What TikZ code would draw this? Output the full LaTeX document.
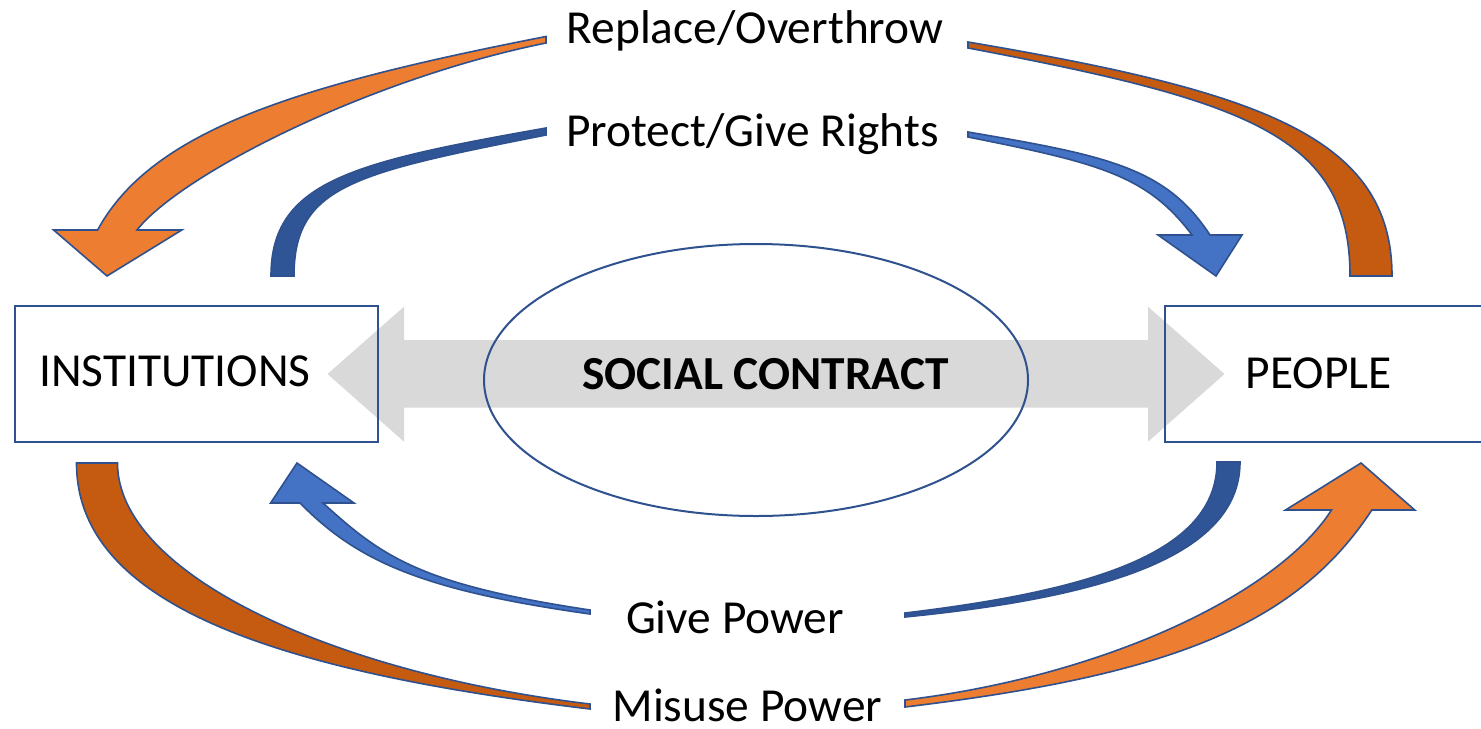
\documentclass[tikz,border=0pt]{standalone}
\usepackage{fontspec}
\setmainfont{Carlito}
\usetikzlibrary{shapes.geometric}
\definecolor{orangeL}{HTML}{ED7D31}
\definecolor{orangeD}{HTML}{C55A11}
\definecolor{blueL}{HTML}{4472C4}
\definecolor{blueD}{HTML}{2F5597}
\definecolor{edgeblue}{HTML}{2F528F}
\definecolor{greyarrow}{HTML}{D9D9D9}
\tikzset{
    band/.style={draw=edgeblue, line width=0.8pt, line join=miter},
    lbl/.style={font=\fontsize{23.7}{28}\selectfont, inner sep=0pt, anchor=base},
    framebox/.style={draw=edgeblue, line width=1.2pt, rectangle, inner sep=0pt},
}

\begin{document}
\begin{tikzpicture}[x=0.5pt, y=-0.5pt]
        \useasboundingbox (0,0) rectangle (1481,728);
        \clip (0,0) rectangle (1481,728);

        \fill[greyarrow] (327.5,374) -- (404,306.7) -- (404,340) -- (1148,340)
            -- (1148,306.7) -- (1224.5,374) -- (1148,441.7) -- (1148,407.7)
            -- (404,407.7) -- (404,441.7) -- cycle;

        \node[framebox, minimum width=181.6pt, minimum height=68pt] (instbox) at (196.6,373.7) {};
        \node[framebox, minimum width=170pt, minimum height=68pt] (pplbox) at (1335,373.7) {};
        \node[ellipse, draw=edgeblue, line width=1pt, inner sep=0pt,
              minimum width=272pt, minimum height=136pt] (contract) at (756,380) {};

        \draw[band, fill=orangeL] (546,36.5) .. controls (298,85) and (152,130) .. (97.6,230)
            -- (53.6,230) -- (107,276) -- (181.8,230) -- (137,230)
            .. controls (180.4,174.7) and (368,79) .. (546,43) -- cycle;
        \draw[band, fill=blueD] (546,128) .. controls (354,162) and (271,181) .. (271,276)
            -- (294,276) .. controls (294,186) and (354,173) .. (546,135) -- cycle;
        \draw[band, fill=orangeD] (968,42) .. controls (1258,91.3) and (1392,136) .. (1392,276)
            -- (1350,276) .. controls (1350,136) and (1248,101) .. (968,48) -- cycle;
        \draw[band, fill=blueL] (968,132) .. controls (1108,155.8) and (1166,167.8) .. (1210,235)
            -- (1242,235) -- (1216,276) -- (1158,235) -- (1192,235)
            .. controls (1147,175) and (1098,163) .. (968,137) -- cycle;
        \draw[band, fill=orangeD] (76.5,463) .. controls (76.5,603) and (270,670.6) .. (590,709)
            -- (590,704) .. controls (330,672.8) and (117.5,573) .. (117.5,463) -- cycle;
        \draw[band, fill=blueL] (590,610) .. controls (420,584.5) and (382,556.6) .. (323,503)
            -- (354,503) -- (297,463) -- (270.6,503) -- (300,503)
            .. controls (356,560) and (420,590.2) .. (590,614) -- cycle;
        \draw[band, fill=blueD] (1240,462) .. controls (1240,562) and (1085,599) .. (905,617)
            -- (905,613) .. controls (1095,590.2) and (1217,552) .. (1217,462) -- cycle;
        \draw[band, fill=orangeL] (905,700) .. controls (1105,676) and (1277.5,594) .. (1331.5,510)
            -- (1285.5,510) -- (1361,463) -- (1414.7,510) -- (1371.8,510)
            .. controls (1294.8,627.6) and (1165,675.8) .. (905,707) -- cycle;

        \node[lbl] (replace) at (755,43.3) {Replace/Overthrow};
        \node[lbl] (protect) at (752.4,146.7) {Protect/Give Rights};
        \node[lbl] (givepow) at (735,633.3) {Give Power};
        \node[lbl] (misuse) at (747.4,721.8) {Misuse Power};
        \node[lbl] (inst) at (175,386.7) {INSTITUTIONS};
        \node[lbl] (ppl) at (1318.7,388.3) {PEOPLE};
        \node[lbl, font=\fontsize{23.7}{28}\selectfont\bfseries] (sc) at (765.5,389.3) {SOCIAL CONTRACT};
\end{tikzpicture}
\end{document}
